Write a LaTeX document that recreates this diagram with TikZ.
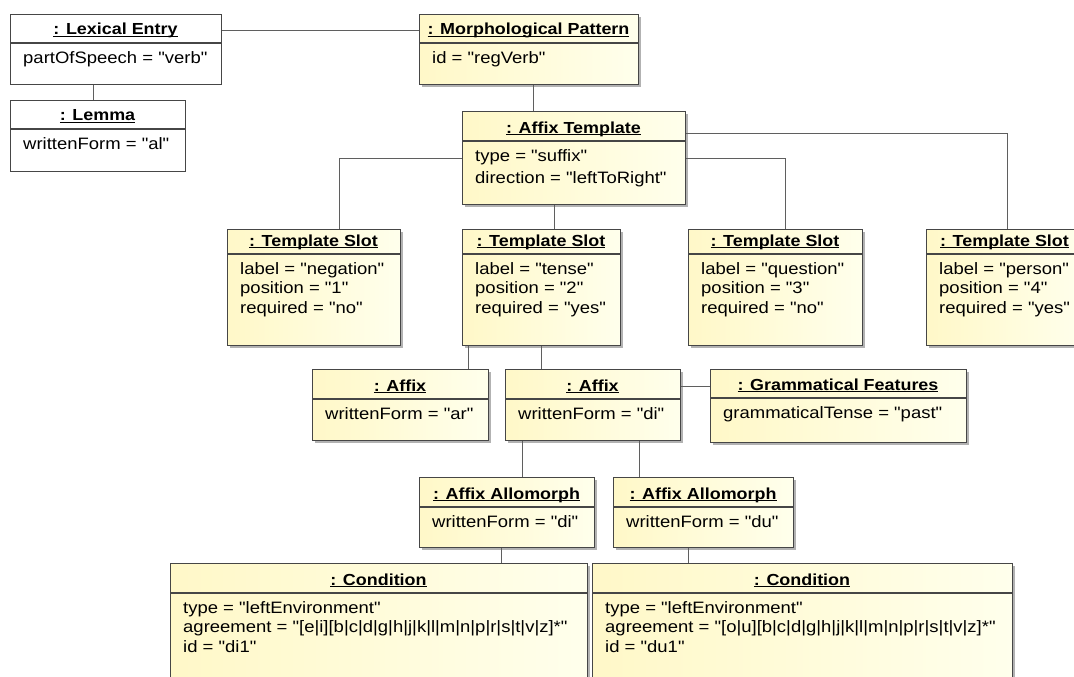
\documentclass[tikz,border=0pt]{standalone}
\usepackage{fontspec}
\setmainfont[FakeStretch=1.12, Ligatures=TeXOff]{Liberation Sans}
\usetikzlibrary{shadows}

\definecolor{objborder}{RGB}{70,70,70}
\definecolor{wirecol}{RGB}{95,95,95}
\definecolor{paleA}{RGB}{255,248,200}
\definecolor{paleB}{RGB}{255,255,236}

\newcommand\titlefont{\fontsize{16}{19}\selectfont\bfseries}
\newcommand\attrfont{\fontsize{16.5}{19.5}\selectfont}
% underlined object name, rule just below the baseline
\newcommand\ulbox[1]{\setbox0=\hbox{#1}\rlap{\rule[-2.4pt]{\wd0}{1.3pt}}\box0}

\tikzset{
  objbox/.style={draw=objborder, line width=1.1pt, inner sep=0pt, anchor=north west},
  yellowobj/.style={objbox, left color=paleA, right color=paleB,
    drop shadow={shadow xshift=2.5pt, shadow yshift=-2.5pt, fill=black!50, opacity=0.6}},
  whiteobj/.style={objbox, fill=white},
  objtitle/.style={anchor=base, inner sep=0pt, font=\titlefont},
  objattr/.style={anchor=north west, inner sep=0pt, align=left, font=\attrfont},
  wire/.style={draw=wirecol, line width=1pt},
}

% #1 style, #2 name, #3 x1, #4 y1, #5 x2, #6 y2, #7 separator y, #8 title, #9 attributes
\newcommand\umlobject[9]{%
  \node[#1, minimum width=#5pt-#3pt, minimum height=#6pt-#4pt] (#2) at (#3,#4) {};
  \draw[objborder, line width=1.1pt] (#3,#7) -- (#5,#7);
  \node[objtitle] (#2-t) at ({(#3+#5)/2},#7-8) {\ulbox{#8}};
  \node[objattr] (#2-a) at (#3+13,#7+7) {\rule{0pt}{13pt}#9};
}

\begin{document}
\begin{tikzpicture}[x=1pt,y=-1pt]
\path[use as bounding box] (0,0) rectangle (1074,677);
\fill[white] (0,0) rectangle (1074,677);
\clip (0,0) rectangle (1074,677);

% objects
\umlobject{whiteobj}{LE}{10}{14}{221}{84}{43}{: Lexical Entry}{partOfSpeech = "verb"}
\umlobject{whiteobj}{Lemma}{10}{100}{185}{171}{129}{: Lemma}{writtenForm = "al"}
\umlobject{yellowobj}{MP}{419}{14}{638}{84}{43}{: Morphological Pattern}{id = "regVerb"}
\umlobject{yellowobj}{AT}{462}{111}{685}{204}{141}{: Affix Template}{type = "suffix"\\[2.5pt] direction = "leftToRight"}
\umlobject{yellowobj}{TSa}{227}{229}{400}{345}{254}{: Template Slot}{label = "negation"\\ position = "1"\\ required = "no"}
\umlobject{yellowobj}{TSb}{462}{229}{620}{345}{254}{: Template Slot}{label = "tense"\\ position = "2"\\ required = "yes"}
\umlobject{yellowobj}{TSc}{688}{229}{862}{345}{254}{: Template Slot}{label = "question"\\ position = "3"\\ required = "no"}
\umlobject{yellowobj}{TSd}{926}{229}{1083}{345}{254}{: Template Slot}{label = "person"\\ position = "4"\\ required = "yes"}
\umlobject{yellowobj}{AFa}{312}{369}{488}{440}{399}{: Affix}{writtenForm = "ar"}
\umlobject{yellowobj}{AFb}{505}{369}{680}{440}{399}{: Affix}{writtenForm = "di"}
\umlobject{yellowobj}{GF}{710}{369}{966}{442}{398}{: Grammatical Features}{grammaticalTense = "past"}
\umlobject{yellowobj}{AAa}{419}{477}{594}{547}{507}{: Affix Allomorph}{writtenForm = "di"}
\umlobject{yellowobj}{AAb}{613}{477}{793}{547}{507}{: Affix Allomorph}{writtenForm = "du"}
\umlobject{yellowobj}{CDa}{170}{563}{587}{700}{593}{: Condition}{type = "leftEnvironment"\\ agreement = "[e|i][b|c|d|g|h|j|k|l|m|n|p|r|s|t|v|z]*"\\ id = "di1"}
\umlobject{yellowobj}{CDb}{592}{563}{1012}{700}{593}{: Condition}{type = "leftEnvironment"\\ agreement = "[o|u][b|c|d|g|h|j|k|l|m|n|p|r|s|t|v|z]*"\\ id = "du1"}

% links
\draw[wire] (LE.east |- LE-t) -- (MP.west |- LE-t);
\draw[wire] ([xshift=-5pt]Lemma.north) -- ([xshift=-5pt]Lemma.north |- LE.south);
\draw[wire] ([xshift=4pt]MP.south) -- ([xshift=4pt]MP.south |- AT.north);
\draw[wire] (AT.west) -| ([xshift=25pt]TSa.north);
\draw[wire] ([xshift=13pt]TSb.north) -- ([xshift=13pt]TSb.north |- AT.south);
\draw[wire] (AT.east) -| ([xshift=10pt]TSc.north);
\draw[wire] ([yshift=25pt]AT.east) -| ([xshift=2pt]TSd.north);
\draw[wire] ([xshift=6pt]TSb.south west) -- ([xshift=6pt]TSb.south west |- AFa.north);
\draw[wire] (TSb.south) -- (TSb.south |- AFb.north);
\draw[wire] (AFb.east |- AFb-t) -- (GF.west |- AFb-t);
\draw[wire] ([xshift=17pt]AFb.south west) -- ([xshift=17pt]AFb.south west |- AAa.north);
\draw[wire] ([xshift=134pt]AFb.south west) -- ([xshift=134pt]AFb.south west |- AAb.north);
\draw[wire] ([xshift=-6pt]AAa.south) -- ([xshift=-6pt]AAa.south |- CDa.north);
\draw[wire] ([xshift=-15pt]AAb.south) -- ([xshift=-15pt]AAb.south |- CDb.north);
\end{tikzpicture}
\end{document}
